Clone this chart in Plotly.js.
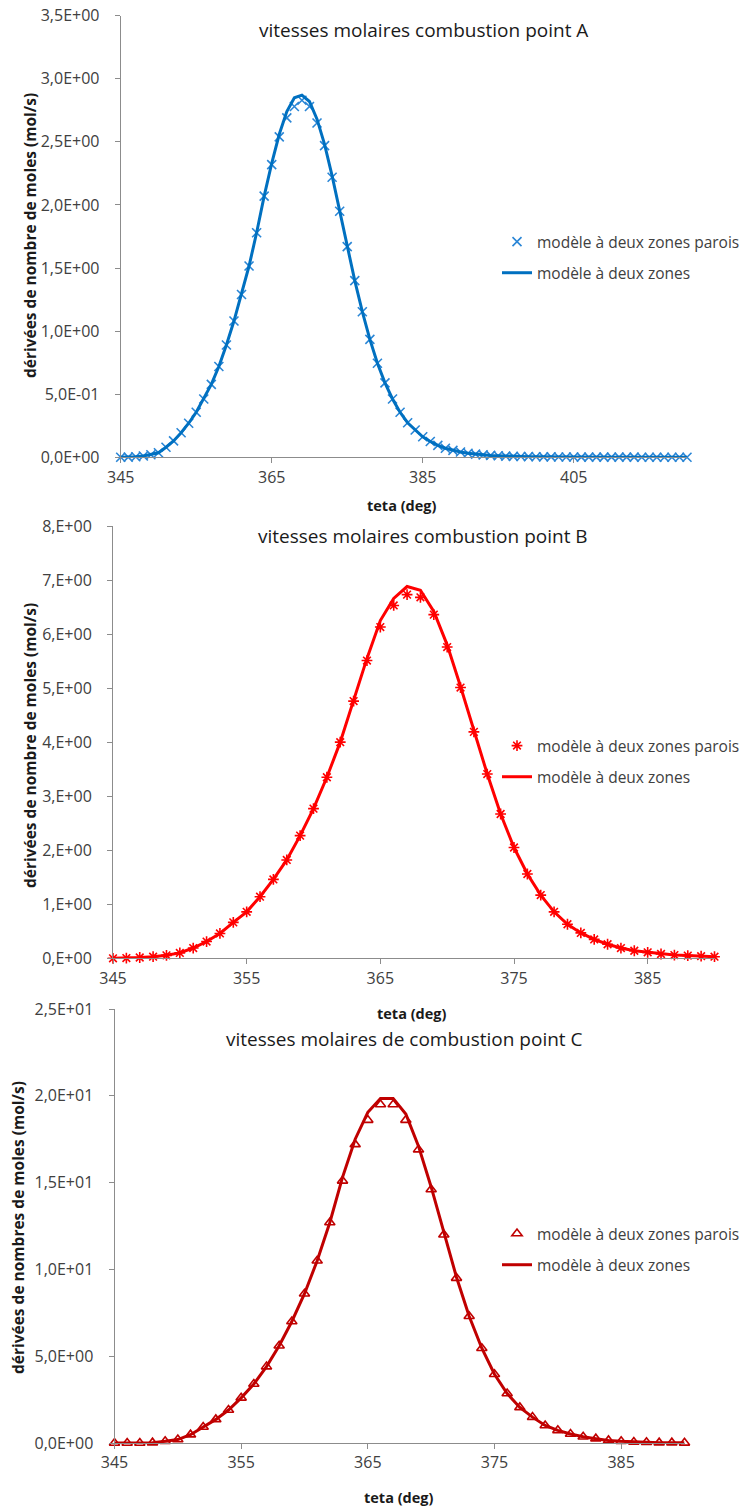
<!DOCTYPE html>
<html>
<head>
<meta charset="utf-8">
<script src="https://cdn.plot.ly/plotly-3.0.1.min.js"></script>
<style>
html,body{margin:0;padding:0;background:#fff;}
#chart{width:755px;height:1511px;}
</style>
</head>
<body>
<div id="chart"></div>
<script>
// ---------- Data ----------
const thetaA = [345,346,347,348,349,350,351,352,353,354,355,356,357,358,359,360,361,362,363,364,365,366,367,368,369,370,371,372,373,374,375,376,377,378,379,380,381,382,383,384,385,386,387,388,389,390,391,392,393,394,395,396,397,398,399,400,401,402,403,404,405,406,407,408,409,410,411,412,413,414,415,416,417,418,419,420];
const paroisA = [0,0.001,0.004,0.01,0.02,0.036,0.08,0.13,0.195,0.27,0.357,0.462,0.578,0.72,0.89,1.08,1.29,1.516,1.78,2.07,2.32,2.54,2.69,2.78,2.83,2.78,2.65,2.47,2.22,1.95,1.67,1.40,1.154,0.935,0.745,0.59,0.462,0.357,0.274,0.216,0.163,0.125,0.095,0.072,0.055,0.042,0.032,0.025,0.019,0.015,0.012,0.009,0.007,0.006,0.005,0.004,0.003,0.003,0.002,0.002,0.002,0.001,0.001,0.001,0.001,0.001,0.001,0.001,0.001,0,0,0,0,0,0,0];
const deuxZonesA = [0,0.001,0.004,0.01,0.02,0.036,0.08,0.13,0.195,0.27,0.357,0.462,0.578,0.72,0.89,1.08,1.29,1.516,1.78,2.07,2.33,2.56,2.74,2.85,2.87,2.82,2.68,2.48,2.23,1.95,1.67,1.40,1.154,0.935,0.745,0.59,0.462,0.357,0.274,0.216,0.163,0.125,0.095,0.072,0.055,0.042,0.032,0.025,0.019,0.015,0.012,0.009,0.007,0.006,0.005,0.004,0.003,0.003,0.002,0.002,0.002,0.001,0.001,0.001,0.001,0.001,0.001,0.001,0.001,0,0,0,0,0,0,0];

const thetaB = [345,346,347,348,349,350,351,352,353,354,355,356,357,358,359,360,361,362,363,364,365,366,367,368,369,370,371,372,373,374,375,376,377,378,379,380,381,382,383,384,385,386,387,388,389,390];
const paroisB = [0,0.005,0.015,0.03,0.055,0.10,0.19,0.31,0.46,0.665,0.86,1.14,1.46,1.82,2.27,2.77,3.35,4.00,4.76,5.51,6.13,6.53,6.73,6.68,6.36,5.76,5.01,4.19,3.41,2.67,2.05,1.56,1.17,0.86,0.63,0.47,0.35,0.26,0.19,0.14,0.11,0.08,0.06,0.05,0.04,0.03];
const deuxZonesB = [0,0.005,0.015,0.03,0.055,0.10,0.19,0.31,0.46,0.665,0.86,1.14,1.46,1.82,2.27,2.77,3.35,4.00,4.78,5.55,6.25,6.66,6.88,6.81,6.42,5.80,5.03,4.20,3.41,2.67,2.05,1.56,1.17,0.86,0.63,0.47,0.35,0.26,0.19,0.14,0.11,0.08,0.06,0.05,0.04,0.03];

const thetaC = [345,346,347,348,349,350,351,352,353,354,355,356,357,358,359,360,361,362,363,364,365,366,367,368,369,370,371,372,373,374,375,376,377,378,379,380,381,382,383,384,385,386,387,388,389,390];
const paroisC = [0,0,0,0.02,0.1,0.2,0.48,0.92,1.36,1.9,2.6,3.4,4.4,5.6,7.0,8.6,10.5,12.7,15.1,17.2,18.6,19.5,19.5,18.6,16.9,14.6,12.0,9.5,7.3,5.46,3.96,2.85,2.05,1.49,1.01,0.73,0.52,0.36,0.25,0.15,0.1,0.06,0.04,0.02,0.02,0.01];
const deuxZonesC = [0,0,0,0.02,0.1,0.2,0.48,0.92,1.36,1.9,2.6,3.4,4.4,5.6,7.0,8.6,10.5,12.7,15.3,17.5,19.05,19.85,19.85,18.95,17.1,14.75,12.1,9.55,7.3,5.46,3.96,2.85,2.05,1.49,1.01,0.73,0.52,0.36,0.25,0.15,0.1,0.06,0.04,0.02,0.02,0.01];

const xTicksA = [345,365,385,405];
const xTicksBC = [345,355,365,375,385];
const yTicksA = [0,0.5,1,1.5,2,2.5,3,3.5];
const yLabelsA = ["0,0E+00","5,0E-01","1,0E+00","1,5E+00","2,0E+00","2,5E+00","3,0E+00","3,5E+00"];
const yTicksB = [0,1,2,3,4,5,6,7,8];
const yLabelsB = ["0,E+00","1,E+00","2,E+00","3,E+00","4,E+00","5,E+00","6,E+00","7,E+00","8,E+00"];
const yTicksC = [0,5,10,15,20,25];
const yLabelsC = ["0,0E+00","5,0E+00","1,0E+01","1,5E+01","2,0E+01","2,5E+01"];

const nameParois = "modèle à deux zones parois";
const nameDeux = "modèle à deux zones";
const titles = ["vitesses molaires combustion point A","vitesses molaires combustion point B","vitesses molaires de combustion point C"];
const yTitles = ["dérivées de nombre de moles (mol/s)","dérivées de nombre de moles (mol/s)","dérivées de nombres de moles (mol/s)"];
const xTitle = "teta (deg)";

// ---------- Styling ----------
const W = 755, H = 1511;
const px = v => v / W;
const py = v => 1 - v / H;
const FONT = "'Open Sans', Lato, sans-serif";
const tickFont = {family: FONT, size: 16, color: "#404040"};
const blue = "#0070C0", blueM = "#2a86d6", red = "#FF0000", dred = "#C00000";

function markerTrace(x, y, sym, col, xa, ya, lg, grp) {
  return {type: "scatter", mode: "markers", x: x, y: y, name: nameParois,
    xaxis: xa, yaxis: ya, legend: lg, legendgroup: grp + "m", cliponaxis: false,
    marker: {symbol: sym, size: 9, color: col, line: {color: col, width: 1.6}},
    hoverinfo: "x+y"};
}
function lineTrace(x, y, col, xa, ya, lg, grp) {
  return {type: "scatter", mode: "lines", x: x, y: y, name: nameDeux,
    xaxis: xa, yaxis: ya, legend: lg, legendgroup: grp + "l", cliponaxis: false,
    line: {color: col, width: 3}, hoverinfo: "x+y"};
}

const data = [
  markerTrace(thetaA, paroisA, "x-thin-open", blueM, "x", "y", "legend", "a"),
  lineTrace(thetaA, deuxZonesA, blue, "x", "y", "legend", "a"),
  markerTrace(thetaB, paroisB, "asterisk-open", red, "x2", "y2", "legend2", "b"),
  lineTrace(thetaB, deuxZonesB, red, "x2", "y2", "legend2", "b"),
  markerTrace(thetaC, paroisC, "triangle-up-open", dred, "x3", "y3", "legend3", "c"),
  lineTrace(thetaC, deuxZonesC, dred, "x3", "y3", "legend3", "c")
];

function xAxis(dom, anchor, range, ticks) {
  return {domain: dom, anchor: anchor, range: range, tickmode: "array", tickvals: ticks,
    ticktext: ticks.map(String), showline: true, linecolor: "#8c8c8c", linewidth: 1,
    ticks: "outside", ticklen: 5, tickcolor: "#8c8c8c", showgrid: false, zeroline: false,
    tickfont: tickFont, ticklabelstandoff: 0, fixedrange: true};
}
function yAxis(dom, anchor, range, ticks, labels) {
  return {domain: dom, anchor: anchor, range: range, tickmode: "array", tickvals: ticks,
    ticktext: labels, showline: true, linecolor: "#8c8c8c", linewidth: 1,
    ticks: "outside", ticklen: 5, tickcolor: "#8c8c8c", showgrid: false, zeroline: false,
    tickfont: tickFont, ticklabelstandoff: 12, fixedrange: true};
}
function legend(xpx, ytop) {
  return {x: px(xpx), xanchor: "left", y: py(ytop), yanchor: "top", bgcolor: "rgba(0,0,0,0)",
    font: {family: FONT, size: 15.5, color: "#404040"}, tracegroupgap: 8, traceorder: "grouped"};
}

const annFont = {family: FONT, size: 19, color: "#1a1a1a"};
const axFont = {family: FONT, size: 14.5, color: "#1a1a1a", weight: "bold"};
const yTitleFont = {family: FONT, size: 15.5, color: "#1a1a1a", weight: "bold"};
function ann(text, x, y, font, angle) {
  return {text: text, x: px(x), y: py(y), xref: "paper", yref: "paper", showarrow: false,
    xanchor: "center", yanchor: "middle", font: font, textangle: angle || 0};
}

const layout = {
  width: W, height: H, margin: {l: 0, r: 0, t: 0, b: 0},
  paper_bgcolor: "#fff", plot_bgcolor: "#fff", showlegend: true,
  xaxis: xAxis([px(120.7), px(687)], "y", [345, 420], xTicksA),
  yaxis: yAxis([py(457.3), py(15.7)], "x", [0, 3.5], yTicksA, yLabelsA),
  xaxis2: xAxis([px(113), px(714.5)], "y2", [345, 390], xTicksBC),
  yaxis2: yAxis([py(958.3), py(526)], "x2", [0, 8], yTicksB, yLabelsB),
  xaxis3: xAxis([px(114.5), px(684.5)], "y3", [345, 390], xTicksBC),
  yaxis3: yAxis([py(1443), py(1009)], "x3", [0, 25], yTicksC, yLabelsC),
  legend: legend(497, 225),
  legend2: legend(497, 729),
  legend3: legend(497, 1217),
  annotations: [
    ann(titles[0], 423, 30, annFont),
    ann(titles[1], 423, 536, annFont),
    ann(titles[2], 404, 1039, annFont),
    ann(xTitle, 402, 506, axFont),
    ann(xTitle, 412, 1013, axFont),
    ann(xTitle, 399, 1497, axFont),
    ann(yTitles[0], 30, 236, yTitleFont, -90),
    ann(yTitles[1], 30, 746, yTitleFont, -90),
    ann(yTitles[2], 18, 1228, yTitleFont, -90)
  ]
};

Plotly.newPlot("chart", data, layout, {staticPlot: true, displayModeBar: false});
</script>
</body>
</html>
